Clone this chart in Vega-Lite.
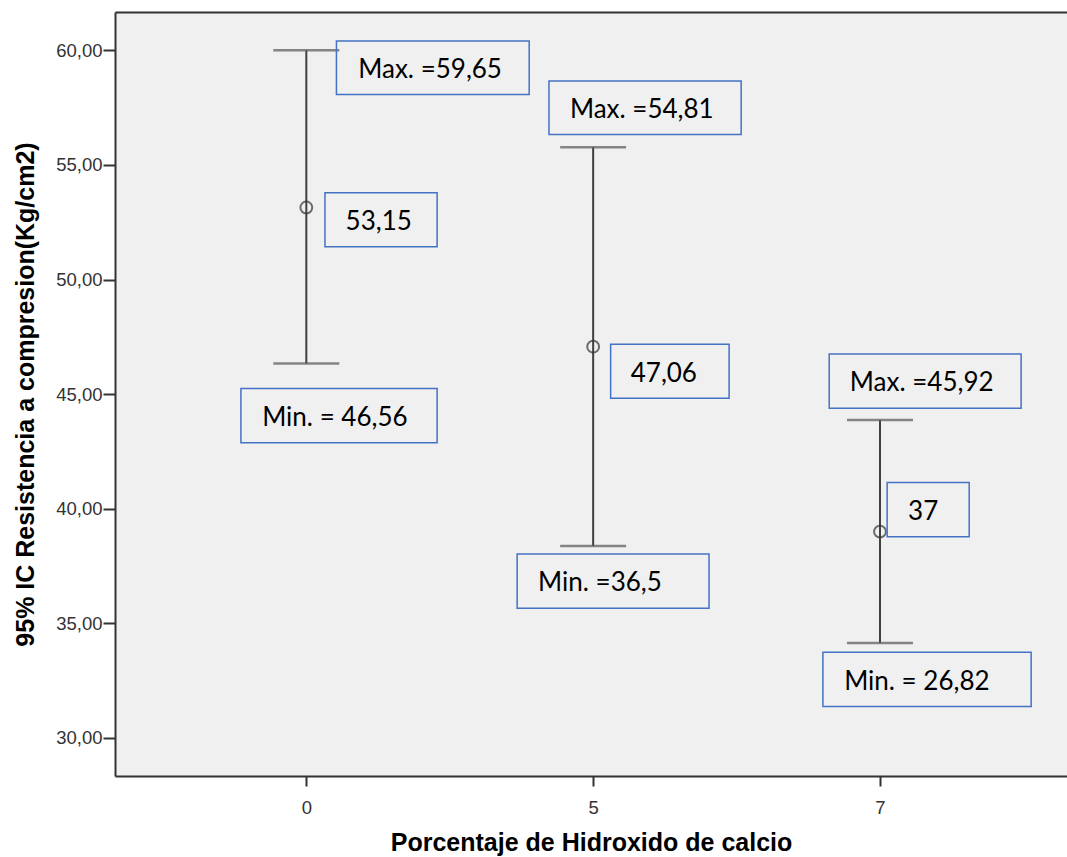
{
  "$schema": "https://vega.github.io/schema/vega-lite/v6.json",
  "width": 952,
  "height": 764,
  "autosize": {"type": "none"},
  "padding": {"left": 115, "top": 12, "right": 0, "bottom": 81},
  "background": "white",
  "config": {
    "view": {"fill": "#F0F0F0", "stroke": null},
    "axis": {"grid": false}
  },
  "datasets": {
    "ic": [
      {"grupo": 0, "Porcentaje": "0", "inferior": 46.34, "media": 53.14, "superior": 60.0},
      {"grupo": 1, "Porcentaje": "5", "inferior": 38.37, "media": 47.07, "superior": 55.77},
      {"grupo": 2, "Porcentaje": "7", "inferior": 34.14, "media": 39.0, "superior": 43.87}
    ],
    "notas": [
      {"texto": "Max. =59,65", "x1": 0.105, "x2": 0.777, "y1": 60.41, "y2": 58.07, "tx": 0.181, "ty": 59.15},
      {"texto": "53,15", "x1": 0.065, "x2": 0.456, "y1": 53.78, "y2": 51.43, "tx": 0.137, "ty": 52.52},
      {"texto": "Min. = 46,56", "x1": -0.228, "x2": 0.456, "y1": 45.25, "y2": 42.88, "tx": -0.154, "ty": 43.97},
      {"texto": "Max. =54,81", "x1": 0.846, "x2": 1.516, "y1": 58.66, "y2": 56.33, "tx": 0.919, "ty": 57.40},
      {"texto": "47,06", "x1": 1.061, "x2": 1.474, "y1": 47.17, "y2": 44.82, "tx": 1.131, "ty": 45.88},
      {"texto": "Min. =36,5", "x1": 0.735, "x2": 1.404, "y1": 38.02, "y2": 35.66, "tx": 0.808, "ty": 36.76},
      {"texto": "Max. =45,92", "x1": 1.823, "x2": 2.492, "y1": 46.75, "y2": 44.38, "tx": 1.895, "ty": 45.47},
      {"texto": "37", "x1": 2.025, "x2": 2.311, "y1": 41.14, "y2": 38.78, "tx": 2.098, "ty": 39.87},
      {"texto": "Min. = 26,82", "x1": 1.801, "x2": 2.527, "y1": 33.74, "y2": 31.37, "tx": 1.875, "ty": 32.46}
    ]
  },
  "layer": [
    {
      "data": {"name": "ic"},
      "mark": {"type": "rule", "color": "#404040", "strokeWidth": 2},
      "encoding": {
        "x": {
          "field": "grupo", "type": "quantitative",
          "title": "Porcentaje de Hidroxido de calcio",
          "scale": {"domain": [-0.667, 2.652], "nice": false, "zero": false},
          "axis": {
            "orient": "bottom",
            "values": [0, 1, 2],
            "labelExpr": "datum.value == 0 ? '0' : (datum.value == 1 ? '5' : '7')",
            "labelFont": "Liberation Sans", "labelFontSize": 18.5, "labelColor": "#333333",
            "labelPadding": 12,
            "tickSize": 10, "tickWidth": 2, "tickColor": "#333333",
            "domainColor": "#333333", "domainWidth": 2,
            "titleFont": "Liberation Sans", "titleFontSize": 25, "titleFontWeight": "bold", "titleColor": "#000000",
            "titlePadding": 14
          }
        },
        "y": {
          "field": "inferior", "type": "quantitative",
          "title": "95% IC Resistencia a compresion(Kg/cm2)",
          "scale": {"domain": [28.34, 61.67], "nice": false, "zero": false},
          "axis": {
            "values": [30, 35, 40, 45, 50, 55, 60],
            "labelExpr": "replace(format(datum.value, '.2f'), '.', ',')",
            "labelFont": "Liberation Sans", "labelFontSize": 18.5, "labelColor": "#333333",
            "labelPadding": 1,
            "tickSize": 12, "tickWidth": 2, "tickColor": "#333333",
            "domainColor": "#333333", "domainWidth": 2,
            "titleFont": "Liberation Sans", "titleFontSize": 25, "titleFontWeight": "bold", "titleColor": "#000000",
            "titlePadding": 17
          }
        },
        "y2": {"field": "superior"}
      }
    },
    {
      "data": {"name": "ic"},
      "mark": {"type": "tick", "orient": "horizontal", "size": 66, "thickness": 2.5, "color": "#555555"},
      "encoding": {
        "x": {"field": "grupo", "type": "quantitative", "axis": null},
        "y": {"field": "superior", "type": "quantitative", "title": "95% IC Resistencia a compresion(Kg/cm2)"}
      }
    },
    {
      "data": {"name": "ic"},
      "mark": {"type": "tick", "orient": "horizontal", "size": 66, "thickness": 2.5, "color": "#555555"},
      "encoding": {
        "x": {"field": "grupo", "type": "quantitative", "axis": null},
        "y": {"field": "inferior", "type": "quantitative", "title": "95% IC Resistencia a compresion(Kg/cm2)"}
      }
    },
    {
      "data": {"name": "ic"},
      "mark": {"type": "point", "shape": "circle", "filled": false, "size": 140, "stroke": "#333333", "strokeWidth": 2},
      "encoding": {
        "x": {"field": "grupo", "type": "quantitative", "axis": null},
        "y": {"field": "media", "type": "quantitative", "title": "95% IC Resistencia a compresion(Kg/cm2)"}
      }
    },
    {
      "data": {"name": "notas"},
      "mark": {"type": "rect", "fill": "#F0F0F0", "fillOpacity": 0, "stroke": "#4472C4", "strokeWidth": 1.5},
      "encoding": {
        "x": {"field": "x1", "type": "quantitative", "axis": null},
        "x2": {"field": "x2"},
        "y": {"field": "y1", "type": "quantitative", "title": "95% IC Resistencia a compresion(Kg/cm2)"},
        "y2": {"field": "y2"}
      }
    },
    {
      "data": {"name": "notas"},
      "mark": {"type": "text", "font": "Lato", "fontSize": 26, "align": "left", "baseline": "middle", "color": "#000000"},
      "encoding": {
        "x": {"field": "tx", "type": "quantitative", "axis": null},
        "y": {"field": "ty", "type": "quantitative", "title": "95% IC Resistencia a compresion(Kg/cm2)"},
        "text": {"field": "texto", "type": "nominal"}
      }
    },
    {
      "data": {"name": "ic"},
      "mark": {"type": "point", "opacity": 0},
      "encoding": {
        "x": {
          "field": "grupo", "type": "quantitative",
          "axis": {"orient": "top", "labels": false, "ticks": false, "title": null, "domainColor": "#333333", "domainWidth": 2}
        },
        "y": {"field": "media", "type": "quantitative", "title": "95% IC Resistencia a compresion(Kg/cm2)"}
      }
    }
  ],
  "resolve": {"axis": {"x": "independent"}}
}
